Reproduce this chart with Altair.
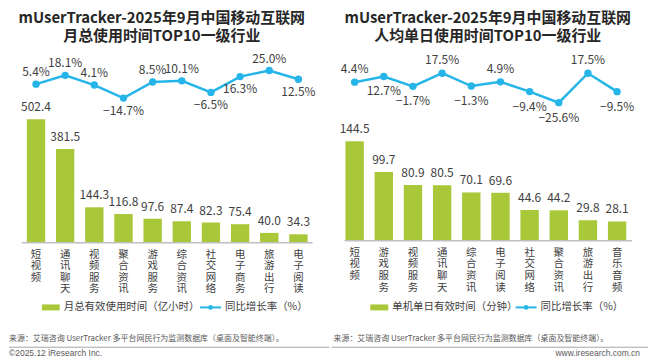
import altair as alt
import pandas as pd

# ---------------- data ----------------
left_cats = ["短视频", "通讯聊天", "视频服务", "聚合资讯", "游戏服务", "综合资讯", "社交网络", "电子商务", "旅游出行", "电子阅读"]
left_vals = [502.4, 381.5, 144.3, 116.8, 97.6, 87.4, 82.3, 75.4, 40.0, 34.3]
left_growth = [5.4, 18.1, 4.1, -14.7, 8.5, 10.1, -6.5, 16.3, 25.0, 12.5]

right_cats = ["短视频", "游戏服务", "视频服务", "通讯聊天", "综合资讯", "电子阅读", "社交网络", "聚合资讯", "旅游出行", "音乐音频"]
right_vals = [144.5, 99.7, 80.9, 80.5, 70.1, 69.6, 44.6, 44.2, 29.8, 28.1]
right_growth = [4.4, 12.7, -1.7, 17.5, -1.3, 4.9, -9.4, -25.6, 17.5, -9.5]

left_title = ["mUserTracker-2025年9月中国移动互联网", "月总使用时间TOP10一级行业"]
right_title = ["mUserTracker-2025年9月中国移动互联网", "人均单日使用时间TOP10一级行业"]
left_legend = ["月总有效使用时间（亿小时）", "同比增长率（%）"]
right_legend = ["单机单日有效时间（分钟）", "同比增长率（%）"]
source_text = "来源：艾瑞咨询 UserTracker 多平台网民行为监测数据库（桌面及智能终端）。"
copyright_text = "©2025.12 iResearch Inc."
site_text = "www.iresearch.com.cn"

# ---------------- style ----------------
FONT = "Noto Sans CJK SC"
GREEN = "#a8c83a"
BLUE = "#26b5e8"
TXT = "#404040"
W, H = 322, 351


def one(t="x"):
    return alt.Chart(pd.DataFrame({"t": [t]}))


def panel(cats, vals, growth, below, titles, legend, p):
    df = pd.DataFrame({"cat": cats, "val": vals, "g": growth, "i": list(range(len(cats)))})
    df["below"] = df["i"].isin(below)
    base = alt.Chart(df)

    x = alt.X("cat:N", sort=None, axis=None,
              scale=alt.Scale(range=p["xr"], paddingInner=0.37, paddingOuter=0.185))
    ybar = alt.Y("val:Q", axis=None,
                 scale=alt.Scale(domain=[0, max(vals)], range=p["yb"], nice=False, zero=True))
    yline = alt.Y("g:Q", axis=None,
                  scale=alt.Scale(domain=[min(growth), max(growth)], range=p["yl"], nice=False, zero=False))

    bars = base.mark_bar(color=GREEN).encode(x=x, y=ybar)
    bar_lbl = base.mark_text(font=FONT, fontSize=12, color=TXT, baseline="middle", dy=-12).encode(
        x=x, y=ybar, text=alt.Text("val:Q", format=".1f"))
    line = base.mark_line(color=BLUE, strokeWidth=2.5).encode(x=x, y=yline)
    pts = base.mark_circle(color=BLUE, size=55, opacity=1).encode(x=x, y=yline)
    g_txt = base.transform_calculate(lbl="format(datum.g, '.1f') + '%'")
    g_above = g_txt.transform_filter("!datum.below").mark_text(
        font=FONT, fontSize=12, color=TXT, baseline="middle", dy=p["dya"]).encode(x=x, y=yline, text="lbl:N")
    g_below = g_txt.transform_filter("datum.below").mark_text(
        font=FONT, fontSize=12, color=TXT, baseline="middle", dy=p["dyb"]).encode(x=x, y=yline, text="lbl:N")

    # vertical category labels: one character per row
    cy = p["cy"]
    cat_lbl = (base.transform_calculate(ch="split(datum.cat, '')")
               .transform_flatten(["ch"])
               .transform_window(k="row_number()", groupby=["cat"])
               .mark_text(font=FONT, fontSize=10.5, color=TXT, baseline="middle")
               .encode(x=x,
                       y=alt.Y("k:Q", axis=None,
                               scale=alt.Scale(domain=[1, 4], range=[cy, cy + 35], nice=False, zero=False)),
                       text="ch:N"))
    axis_rule = one().mark_rule(color="#bfbfbf", strokeWidth=1.5).encode(
        x=alt.value(p["ax"][0]), x2=alt.value(p["ax"][1]), y=alt.value(p["yb"][0]))

    t1 = one(titles[0]).mark_text(font=FONT, fontSize=15, fontWeight="bold", color="#262626",
                                  baseline="middle", align="center").encode(
        x=alt.value(p["tx"]), y=alt.value(9.5), text="t:N")
    t2 = one(titles[1]).mark_text(font=FONT, fontSize=15, fontWeight="bold", color="#262626",
                                  baseline="middle", align="center").encode(
        x=alt.value(p["tx"]), y=alt.value(27), text="t:N")

    lx = p["lx"]
    leg_rect = one().mark_rect(color=GREEN).encode(
        x=alt.value(lx[0]), x2=alt.value(lx[0] + 18), y=alt.value(297), y2=alt.value(303))
    leg_t1 = one(legend[0]).mark_text(font=FONT, fontSize=10.5, color=TXT, align="left", baseline="middle").encode(
        x=alt.value(lx[0] + 22), y=alt.value(300), text="t:N")
    leg_line = one().mark_rule(color=BLUE, strokeWidth=2).encode(
        x=alt.value(lx[1]), x2=alt.value(lx[1] + 21), y=alt.value(300))
    leg_dot = one().mark_circle(color=BLUE, size=22, opacity=1).encode(
        x=alt.value(lx[1] + 10.5), y=alt.value(300))
    leg_t2 = one(legend[1]).mark_text(font=FONT, fontSize=10.5, color=TXT, align="left", baseline="middle").encode(
        x=alt.value(lx[1] + 25), y=alt.value(300), text="t:N")

    src = one(source_text).mark_text(font=FONT, fontSize=8, color="#595959", align="left", baseline="middle").encode(
        x=alt.value(p["sx"]), y=alt.value(332), text="t:N")
    sep = one().mark_rule(color="#a6a6a6", strokeWidth=1).encode(
        x=alt.value(0), x2=alt.value(p["sep"]), y=alt.value(340))

    layers = [bars, bar_lbl, line, pts, g_above, g_below, cat_lbl, axis_rule, t1, t2,
              leg_rect, leg_t1, leg_line, leg_dot, leg_t2, src, sep]
    if p.get("foot_left"):
        layers.append(one(copyright_text).mark_text(font="Liberation Sans", fontSize=8.5, color="#595959",
                                                    align="left", baseline="middle").encode(
            x=alt.value(0), y=alt.value(346), text="t:N"))
    else:
        layers.append(one(site_text).mark_text(font="Liberation Sans", fontSize=8.5, color="#595959",
                                               align="right", baseline="middle").encode(
            x=alt.value(310), y=alt.value(346), text="t:N"))
    return alt.layer(*layers).resolve_scale(y="independent").properties(width=W, height=H)


left = panel(left_cats, left_vals, left_growth, [3, 6, 7, 9], left_title, left_legend,
             dict(xr=[12.5, 305.4], yb=[235, 111], yl=[89.7, 62], dya=-12, dyb=13, cy=247,
                  ax=[13, 305], tx=153.5, lx=[33, 192], sx=0, sep=322, foot_left=True))
right = panel(right_cats, right_vals, right_growth, [1, 2, 4, 6, 7, 9], right_title, right_legend,
              dict(xr=[8.6, 301.6], yb=[233, 133], yl=[94.3, 64.7], dya=-13, dyb=15, cy=245,
                   ax=[13, 302], tx=157, lx=[39, 185], sx=2, sep=318, foot_left=False))

chart = alt.hconcat(left, right, spacing=0).properties(padding=0).configure_view(stroke=None)
chart.save("out.html", embed_options={"renderer": "svg", "actions": False})
